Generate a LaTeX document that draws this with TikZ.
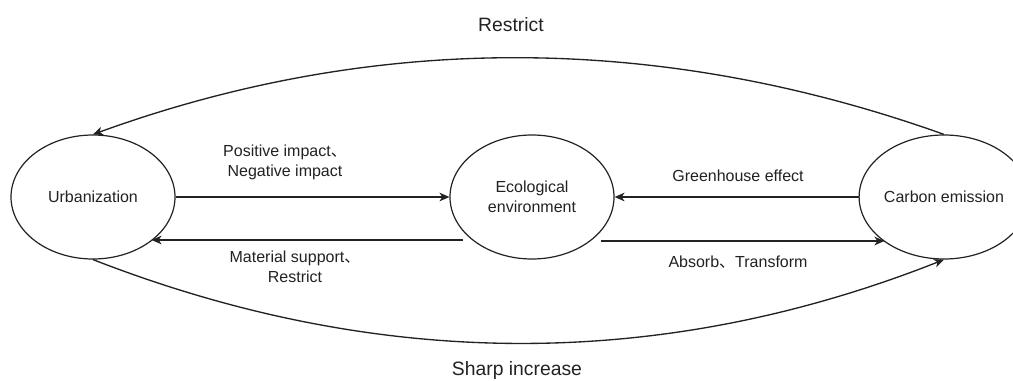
\documentclass[tikz,border=0pt]{standalone}
\usepackage{fontspec}
\setmainfont{Liberation Sans}
\newfontfamily\cjk{Noto Sans CJK SC}
\usetikzlibrary{shapes.geometric,arrows.meta}
\newcommand\dunhao{{\cjk 、}}
\definecolor{ink}{RGB}{34,34,34}
\begin{document}
\begin{tikzpicture}[x=0.75pt,y=-0.75pt,
  every node/.style={text=ink,font=\fontsize{12}{15}\selectfont},
  ell/.style={ellipse,draw=ink,line width=0.9pt,minimum width=123pt,minimum height=93pt,inner sep=0pt,align=center},
  lbl/.style={align=center,inner sep=0pt},
  biglbl/.style={lbl,font=\fontsize{14.5}{17}\selectfont},
  arr/.style={draw=ink,line width=1pt,-{Stealth[length=7.5pt,width=6.5pt,inset=2.2pt]}}]
\useasboundingbox[fill=white] (0,0) rectangle (1013,381);
% nodes
\node[ell] (urb) at (93,197) {Urbanization};
\node[ell] (eco) at (532,197) {Ecological\\environment};
\node[ell] (car) at (944,197) {Carbon emission};
% free ends
\coordinate (es) at (463,240);
\coordinate (ab) at (601,241);
% straight connectors
\draw[arr] (urb.east) -- (eco.west);
\draw[arr] (es) -- (urb.-37 |- es);
\draw[arr] (car.west) -- (eco.east);
\draw[arr] (ab) -- (car.217 |- ab);
% curved connectors
\draw[arr] (car.north) .. controls (660,33) and (375,32) .. (urb.north);
\draw[arr] (urb.south) .. controls (379,371) and (662,371) .. (car.south);
% labels
\node[lbl] (l1) at (285,162) {Positive impact\dunhao\\Negative impact};
\node[lbl] (l2) at (295,267) {Material support\dunhao\\Restrict};
\node[lbl] (l3) at (738,176) {Greenhouse effect};
\node[lbl] (l4) at (738,262) {Absorb\dunhao Transform};
\node[biglbl] (l5) at (511,25) {Restrict};
\node[biglbl] (l6) at (517,370) {Sharp increase};
\end{tikzpicture}
\end{document}
